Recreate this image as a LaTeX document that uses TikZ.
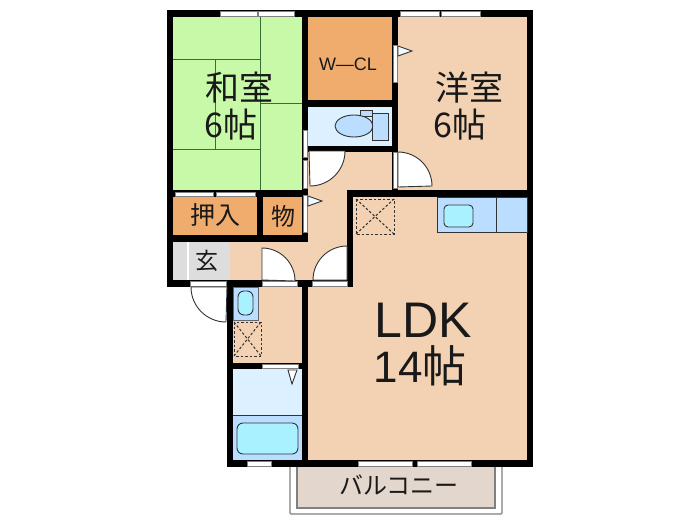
\documentclass[tikz,border=0pt]{standalone}
\usepackage{fontspec}
\setmainfont{Noto Sans CJK JP}
\newfontfamily\latinfont{Liberation Sans}

\definecolor{tatami}{HTML}{C8F9A9}
\definecolor{storage}{HTML}{F0AC6C}
\definecolor{flooring}{HTML}{F2D2B2}
\definecolor{wetroom}{HTML}{DDF0FF}
\definecolor{fixture}{HTML}{BBDDFF}
\definecolor{basin}{HTML}{AAF1FF}
\definecolor{entry}{HTML}{DDDDDD}
\definecolor{terrace}{HTML}{E3D6CC}
\definecolor{sash}{HTML}{808080}

\begin{document}
\begin{tikzpicture}[x=1pt, y=-1pt,
    room/.style={fill=#1, draw=none},
    wall/.style={fill=black, draw=none},
    strip/.style={fill=white, draw=sash, line width=0.8pt},
    matline/.style={draw=black!60!green!60!gray, line width=1pt},
    leaf/.style={fill=white, draw=black!80, line width=0.9pt},
    hatch/.style={draw=black!80, line width=1pt, dash pattern=on 2.5pt off 2pt},
    unit/.style={draw=black!80, line width=0.9pt},
    label/.style={inner sep=0pt, text=black!90, font=#1},
    label/.default=\fontsize{34}{34}\selectfont]

    \useasboundingbox (0,0) rectangle (700,525);

    % balcony
    \draw[draw=sash, line width=1.2pt, fill=white, rounded corners=1pt] (290,460) -- (290,514) -- (502,514) -- (502,460);
    \draw[room=terrace] (297,460) rectangle (495,508);
    \draw[draw=sash, line width=1.2pt] (297,460) -- (297,508) -- (495,508) -- (495,460);

    % rooms
    \draw[room=tatami] (173,17) rectangle (302,190);
    \draw[room=storage] (308,17) rectangle (392,100);
    \draw[room=wetroom] (308,107) rectangle (392,146);
    \draw[room=flooring] (398,17) rectangle (527,190);
    \draw[room=flooring] (308,152) rectangle (398,197);
    \draw[room=flooring] (308,152) rectangle (347,280);
    \draw[room=flooring] (230,242) rectangle (347,280);
    \draw[room=storage] (173,197) rectangle (257,235);
    \draw[room=storage] (263,197) rectangle (302,235);
    \draw[room=entry] (173,242) rectangle (230,280);
    \draw[fill=white, draw=none] (187,242) rectangle (188.5,280);
    \draw[room=flooring] (233,287) rectangle (302,363);
    \draw[room=wetroom] (233,369) rectangle (302,415);
    \draw[room=fixture] (233,415) rectangle (302,460);
    \draw[room=flooring] (353,197) rectangle (527,460);
    \draw[room=flooring] (308,287) rectangle (353,460);

    % tatami lines
    \draw[matline] (260,17) -- (260,190);
    \draw[matline] (173,59) -- (260,59);
    \draw[matline] (215,59) -- (215,149);
    \draw[matline] (173,149) -- (260,149);
    \draw[matline] (260,103) -- (302,103);

    % walls
    \draw[wall] (167,10) rectangle (533,17);
    \draw[wall] (167,10) rectangle (173,287);
    \draw[wall] (527,10) rectangle (533,467);
    \draw[wall] (302,10) rectangle (308,242);
    \draw[wall] (392,10) rectangle (398,197);
    \draw[wall] (302,100) rectangle (398,107);
    \draw[wall] (302,146) rectangle (398,152);
    \draw[wall] (167,190) rectangle (308,197);
    \draw[wall] (257,190) rectangle (263,242);
    \draw[wall] (167,235) rectangle (308,242);
    \draw[wall] (347,190) rectangle (533,197);
    \draw[wall] (347,190) rectangle (353,287);
    \draw[wall] (167,280) rectangle (353,287);
    \draw[wall] (227,280) rectangle (233,467);
    \draw[wall] (302,280) rectangle (308,467);
    \draw[wall] (227,363) rectangle (308,369);
    \draw[wall] (227,460) rectangle (533,467);

    % windows and door openings
    \draw[strip] (220,11) rectangle (257,16);
    \draw[strip] (258,11) rectangle (294,16);
    \draw[strip] (400,11) rectangle (439,16);
    \draw[strip] (441,11) rectangle (480,16);
    \draw[strip] (303,130) rectangle (307,157);
    \draw[strip] (303,160) rectangle (307,188);
    \draw[strip] (175,192) rectangle (213,196);
    \draw[strip] (216,192) rectangle (255,196);
    \draw[strip] (393,45) rectangle (397,82);
    \draw[strip] (393,152) rectangle (397,188);
    \draw[strip] (303,195) rectangle (307,232);
    \draw[strip] (190,281) rectangle (226,286);
    \draw[strip] (262,281) rectangle (297,286);
    \draw[strip] (312,281) rectangle (347,286);
    \draw[strip] (262,364) rectangle (298,368);
    \draw[strip] (247,461) rectangle (271,466);
    \draw[strip] (358,461) rectangle (412,466);
    \draw[strip] (417,461) rectangle (471,466);

    % door leaves
    \draw[leaf] (227,287) -- (191,287) arc[start angle=180, end angle=90, radius=35] -- cycle;
    \draw[leaf] (262,280) -- (262,248) arc[start angle=-90, end angle=0, radius=33] -- cycle;
    \draw[leaf] (347,280) -- (313,280) arc[start angle=180, end angle=270, radius=34] -- cycle;
    \draw[leaf] (309,151) -- (345,151) arc[start angle=0, end angle=90, radius=35] -- cycle;
    \draw[leaf] (398,187) -- (398,152) arc[start angle=-90, end angle=0, radius=34] -- cycle;
    \draw[leaf, fill=wetroom!40!white] (398,46) -- (412,51) -- (398,56) -- cycle;
    \draw[leaf, fill=wetroom!40!white] (308,196) -- (322,201) -- (308,206) -- cycle;
    \draw[leaf] (288,370) -- (297,370) -- (292,384) -- cycle;

    % toilet
    \draw[unit, fill=fixture] (360,110) rectangle (372,116);
    \draw[unit, fill=fixture] (354,126) ellipse[x radius=19, y radius=11];
    \draw[unit, fill=fixture] (372,113) rectangle (388,140);

    % kitchen
    \draw[draw=black!80, line width=0.8pt, fill=fixture] (437,232) -- (437,197) -- (527,197) -- (527,232) -- cycle;
    \draw[unit] (496,197) -- (496,232);
    \draw[unit, fill=basin, rounded corners=4pt] (444,205) rectangle (473,227);

    % wash basin and bath
    \draw[draw=black!60, line width=0.6pt, fill=fixture] (233,287) rectangle (258,320);
    \draw[unit, fill=basin, rounded corners=6pt] (238,291) rectangle (253,315);
    \draw[unit, line width=0.9pt] (233,415) -- (302,415);
    \draw[unit, fill=basin, rounded corners=6pt] (237,423) rectangle (298,454);

    % service hatches
    \draw[hatch] (356,199) rectangle (394,234);
    \draw[hatch] (356,199) -- (394,234);
    \draw[hatch] (356,234) -- (394,199);
    \draw[hatch] (234,322) rectangle (261,356);
    \draw[hatch] (234,322) -- (261,356);
    \draw[hatch] (234,356) -- (261,322);

    % labels
    \node[label] (washitsu) at (239,88) {和室};
    \node[label, anchor=west] (washitsusize) at (204,125) {6帖};
    \node[label] (yoshitsu) at (469,88) {洋室};
    \node[label, anchor=west] (yoshitsusize) at (433,125) {6帖};
    \node[label={\latinfont\fontsize{18}{18}\selectfont}] (closet) at (348,64) {W—CL};
    \node[label={\fontsize{25}{25}\selectfont}] (oshiire) at (215,215) {押入};
    \node[label={\fontsize{24}{24}\selectfont}] (mono) at (283,216) {物};
    \node[label={\fontsize{23}{23}\selectfont}] (genkan) at (207,261) {玄};
    \node[label={\latinfont\fontsize{50}{50}\selectfont}] (ldk) at (423,320) {LDK};
    \node[label={\fontsize{44}{44}\selectfont}] (ldksize) at (420,366) {\latinfont 14\fontspec{Noto Sans CJK JP}帖};
    \node[label={\fontsize{24}{24}\selectfont}] (balcony) at (399,485) {バルコニー};

\end{tikzpicture}
\end{document}
